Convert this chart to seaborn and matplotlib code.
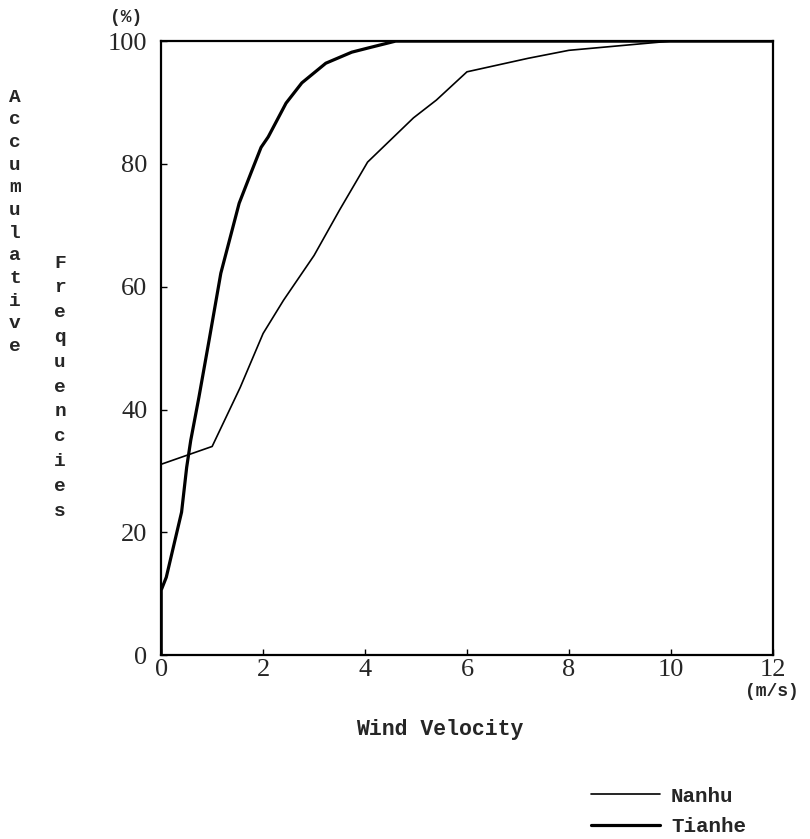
import matplotlib
matplotlib.use("Agg")
import matplotlib.pyplot as plt
import seaborn as sns
import pandas as pd

# Data
nanhu_x = [0, 1.0, 1.55, 2.0, 2.4, 3.0, 3.5, 4.05, 4.5, 4.95, 5.4, 6.0, 7.2, 8.0, 8.4, 10.0, 12.0]
nanhu_y = [31.1, 34.0, 43.6, 52.4, 57.8, 65.1, 72.5, 80.3, 83.9, 87.5, 90.4, 95.0, 97.2, 98.5, 98.8, 100.0, 100.0]

tianhe_x = [0, 0, 0.1, 0.4, 0.5, 0.58, 0.74, 0.94, 1.17, 1.29, 1.53, 1.76, 1.96, 2.1, 2.45, 2.76, 3.23, 3.74, 4.07, 4.6, 12.0]
tianhe_y = [0, 10.6, 12.7, 23.3, 30.6, 35.0, 42.0, 51.3, 62.2, 66.0, 73.6, 78.5, 82.7, 84.4, 89.9, 93.2, 96.4, 98.2, 98.9, 100.0, 100.0]

x_ticks = [0, 2, 4, 6, 8, 10, 12]
y_ticks = [0, 20, 40, 60, 80, 100]

sns.set_theme(style="white")
plt.rcParams["font.family"] = ["Liberation Serif", "DejaVu Serif"]

fig = plt.figure(figsize=(8.1, 8.39), dpi=100)
ax = fig.add_axes([0.199, 0.219, 0.755, 0.732])

df_n = pd.DataFrame({"x": nanhu_x, "y": nanhu_y})
df_t = pd.DataFrame({"x": tianhe_x, "y": tianhe_y})
sns.lineplot(data=df_n, x="x", y="y", ax=ax, color="black", lw=1.2, sort=False,
             estimator=None, label="Nanhu")
sns.lineplot(data=df_t, x="x", y="y", ax=ax, color="black", lw=2.3, sort=False,
             estimator=None, label="Tianhe")

ax.set_xlim(0, 12)
ax.set_ylim(0, 100)
ax.set_xticks(x_ticks)
ax.set_yticks(y_ticks)
ax.set_xticklabels([str(v) for v in x_ticks], fontsize=19)
ax.set_yticklabels([str(v) for v in y_ticks], fontsize=19)
ax.tick_params(axis="both", direction="in", length=4, width=1, color="black",
               bottom=True, left=True)
ax.tick_params(axis="y", pad=10)
ax.tick_params(axis="x", pad=3)
for s in ax.spines.values():
    s.set_visible(True)
    s.set_color("black")
    s.set_linewidth(1.6)
ax.set_xlabel("")
ax.set_ylabel("")

mono = ["Liberation Mono", "DejaVu Sans Mono"]
fig.text(126 / 810, 1 - 17 / 839, "(%)", fontsize=13, family=mono, weight="bold",
         ha="center", va="center")
fig.text(772 / 810, 1 - 692 / 839, "(m/s)", fontsize=13, family=mono, weight="bold",
         ha="center", va="center")
fig.text(440 / 810, 1 - 729 / 839, "Wind Velocity", fontsize=15.5, family=mono,
         weight="bold", ha="center", va="center")

word1 = "Accumulative"
for i, ch in enumerate(word1):
    fig.text(15 / 810, 1 - (97 + i * 22.7) / 839, ch, fontsize=14, family=mono,
             weight="bold", ha="center", va="center")
word2 = "Frequencies"
for i, ch in enumerate(word2):
    fig.text(60 / 810, 1 - (263 + i * 24.8) / 839, ch, fontsize=14, family=mono,
             weight="bold", ha="center", va="center")

handles, labels = ax.get_legend_handles_labels()
ax.get_legend().remove()
leg = fig.legend(handles, labels, loc="upper left", bbox_to_anchor=(572 / 810, 1 - 768 / 839),
                 frameon=False, handlelength=3.3, handletextpad=0.55,
                 labelspacing=0.55, prop={"family": mono, "weight": "bold", "size": 15})

fig.savefig("out.png", dpi=100, facecolor="white")
